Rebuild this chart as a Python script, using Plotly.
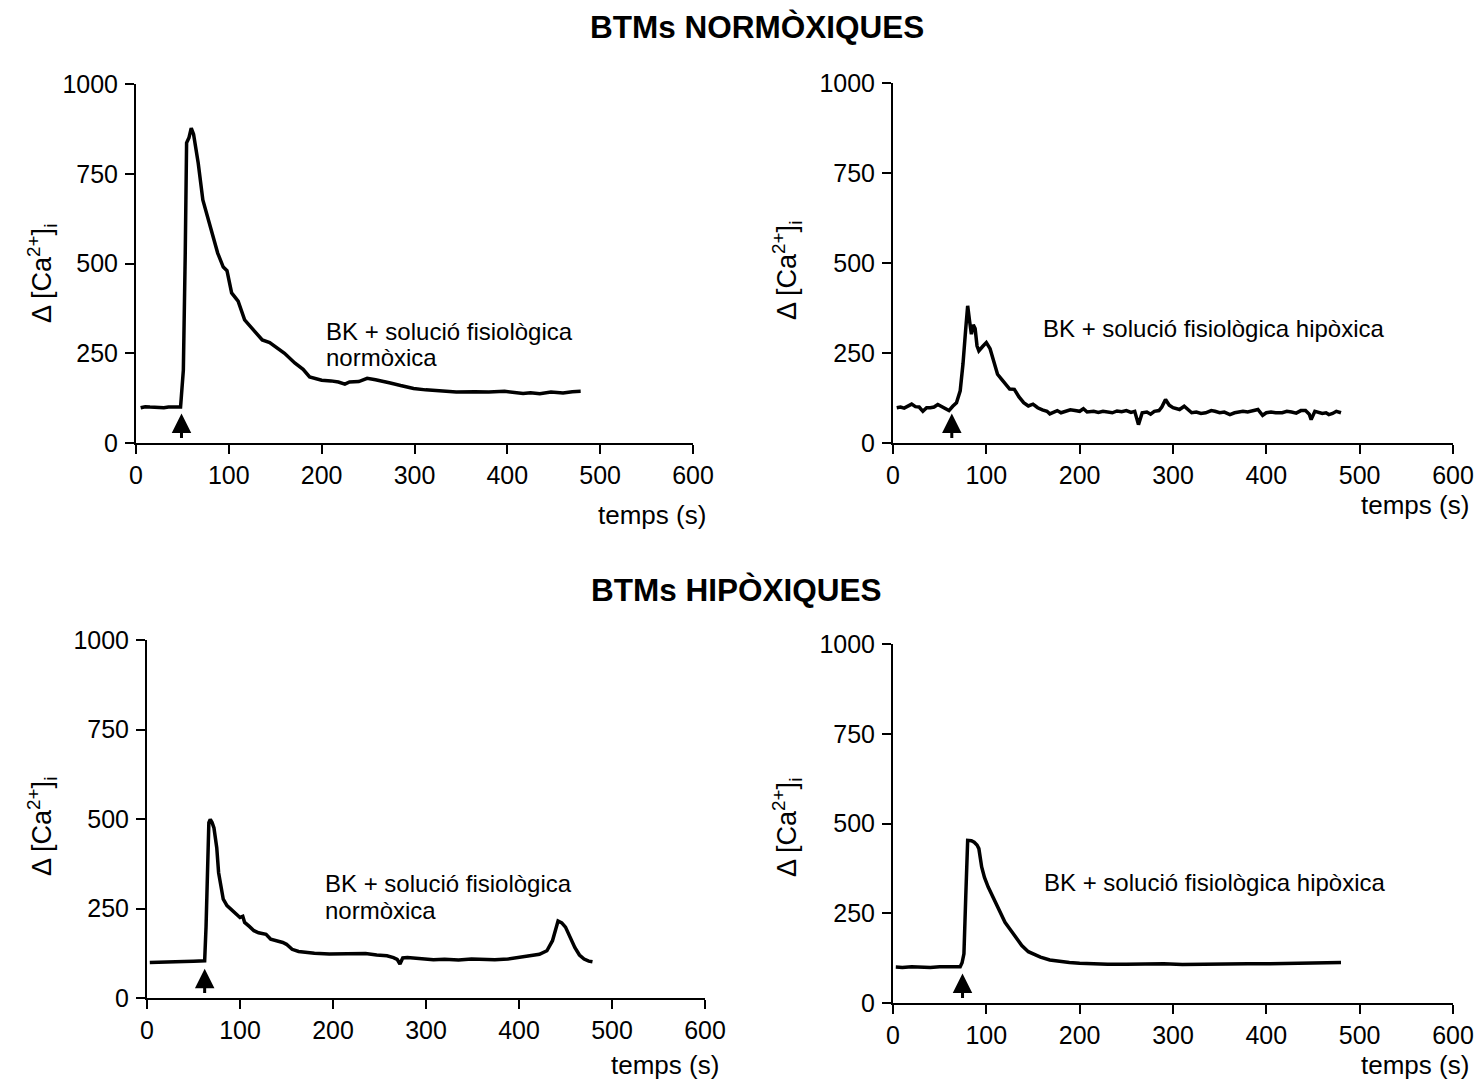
import plotly.graph_objects as go

W, H = 1479, 1082

# --- Traces: BTMs normòxiques ---
t_norm_norm = [5, 10, 15, 20, 25, 30, 35, 40, 45, 48, 51, 53, 54.5, 57, 59.5, 62, 67, 72, 80, 88,
               94, 98, 103, 110, 117, 125, 136, 144, 152, 160, 171, 180, 187, 195, 200, 210, 218,
               225, 230, 240, 249, 258, 266, 274, 285, 299, 312, 328, 345, 365, 380, 397, 410,
               417, 425, 435, 447, 460, 470, 479]
ca_norm_norm = [98, 101, 100, 99, 100, 98, 100, 99, 100, 100, 203, 520, 836, 850, 877, 860, 780,
                677, 602, 529, 490, 480, 418, 395, 343, 320, 287, 280, 265, 250, 223, 205, 184,
                178, 175, 173, 170, 164, 170, 171, 180, 176, 172, 167, 160, 152, 148, 145, 142,
                143, 142, 144, 141, 138, 140, 137, 142, 139, 143, 144]

t_norm_hip = [4, 8, 12, 16, 20, 24, 28, 32, 36, 40, 44, 48, 52, 56, 60, 64, 68, 72, 75, 78, 80,
              82, 84, 86, 88, 90, 92, 96, 100, 104, 108, 112, 116, 120, 125, 130, 135, 140, 145,
              150, 155, 160, 165, 168, 172, 176, 180, 185, 190, 195, 200, 204, 208, 215, 220, 225,
              230, 235, 240, 245, 250, 255, 259, 263, 267, 272, 276, 280, 285, 288, 292, 296, 300,
              304, 307, 312, 316, 320, 325, 330, 335, 341, 345, 350, 355, 361, 366, 370, 375, 380,
              385, 391, 396, 400, 405, 410, 417, 422, 427, 432, 437, 442, 446, 448, 452, 456, 460,
              464, 467, 471, 475, 480]
ca_norm_hip = [98, 100, 97, 102, 108, 101, 100, 88, 98, 98, 100, 107, 102, 96, 90, 102, 112, 145,
               220, 320, 381, 340, 302, 328, 318, 270, 256, 268, 279, 262, 228, 191, 178, 167, 150,
               149, 128, 112, 103, 108, 98, 92, 88, 81, 86, 90, 84, 88, 92, 90, 88, 95, 86, 88, 85,
               88, 86, 84, 89, 87, 90, 85, 88, 51, 84, 86, 80, 88, 90, 100, 121, 105, 98, 95, 93,
               102, 92, 84, 86, 82, 84, 90, 88, 84, 86, 79, 84, 86, 88, 86, 89, 93, 77, 84, 86, 84,
               84, 88, 86, 83, 90, 90, 80, 65, 88, 86, 82, 84, 79, 82, 88, 84]

# --- Traces: BTMs hipòxiques ---
t_hip_norm = [3, 10, 20, 30, 40, 50, 58, 62, 63.5, 65, 66.5, 68, 70, 72, 75, 77, 80, 82, 86, 90,
              95, 100, 103, 105, 110, 115, 120, 125, 128, 133, 140, 146, 150, 156, 163, 171, 180,
              196, 210, 222, 235, 247, 258, 265, 269, 272, 275, 280, 290, 298, 308, 320, 335, 349,
              362, 374, 388, 399, 408, 415, 422, 430, 436, 442, 446, 450, 455, 460, 465, 470, 475,
              479]
ca_hip_norm = [99, 100, 100, 101, 102, 103, 104, 104, 200, 400, 490, 499, 490, 475, 420, 350, 300,
               276, 258, 248, 236, 225, 228, 211, 200, 188, 182, 178, 178, 164, 160, 155, 150, 136,
               130, 127, 125, 123, 124, 123, 124, 120, 118, 113, 108, 95, 112, 113, 111, 109, 107,
               108, 106, 109, 108, 107, 109, 113, 116, 118, 122, 132, 160, 215, 210, 198, 170, 141,
               120, 109, 103, 101]

t_hip_hip = [3, 10, 20, 30, 40, 50, 60, 68, 72, 74, 76, 78, 80, 84, 87, 90, 92, 95, 98, 102, 108,
             115, 120, 125, 132, 138, 145, 150, 158, 168, 178, 189, 200, 214, 230, 250, 270, 290,
             310, 330, 341, 360, 380, 391, 410, 430, 450, 465, 480]
ca_hip_hip = [100, 99, 101, 100, 99, 101, 100, 100, 101, 112, 137, 300, 453, 452, 448, 440, 430,
              379, 350, 323, 290, 248, 225, 207, 182, 160, 143, 137, 128, 120, 116, 113, 111, 109,
              108, 108, 109, 109, 107, 108, 109, 108, 109, 109, 110, 110, 111, 112, 113]

# stimulus (BK) application time for each recording
bk_times = [49, 63, 62, 74.5]

solution_labels = ["BK + solució fisiològica<br>normòxica",
                   "BK + solució fisiològica hipòxica",
                   "BK + solució fisiològica<br>normòxica",
                   "BK + solució fisiològica hipòxica"]
section_titles = ["BTMs NORMÒXIQUES", "BTMs HIPÒXIQUES"]
x_ticks = [0, 100, 200, 300, 400, 500, 600]
y_ticks = [0, 250, 500, 750, 1000]

FONT = "Liberation Sans, Arial, Helvetica, sans-serif"


def fx(p):
    return p / W


def fy(p):
    return 1 - p / H


# pixel boxes of each plot area: (left, right, bottom, top)
boxes = [(136, 693, 443, 84), (893, 1453, 443, 83), (147, 705, 998, 640), (893, 1453, 1003, 644)]

series = [(t_norm_norm, ca_norm_norm), (t_norm_hip, ca_norm_hip),
          (t_hip_norm, ca_hip_norm), (t_hip_hip, ca_hip_hip)]

fig = go.Figure()
layout = dict(template="none", width=W, height=H, margin=dict(l=0, r=0, t=0, b=0, pad=0),
              paper_bgcolor="white", plot_bgcolor="white", showlegend=False,
              font=dict(family=FONT, color="black"))
annotations = []

for i, ((tt, cc), (l, r, b, t)) in enumerate(zip(series, boxes)):
    n = "" if i == 0 else str(i + 1)
    fig.add_trace(go.Scatter(x=tt, y=cc, mode="lines", xaxis="x" + n, yaxis="y" + n,
                             line=dict(color="black", width=3.5), hoverinfo="skip"))
    axis_common = dict(showline=True, linecolor="black", linewidth=2, ticks="outside",
                       ticklen=9, tickwidth=2, tickcolor="black", showgrid=False,
                       zeroline=False, automargin=False,
                       tickfont=dict(family=FONT, size=25, color="black"),
                       fixedrange=True)
    layout["xaxis" + n] = dict(axis_common, domain=[fx(l), fx(r)], range=[0, 600],
                               tickvals=x_ticks, anchor="y" + n)
    layout["yaxis" + n] = dict(axis_common, domain=[fy(b), fy(t)], range=[0, 1000],
                               tickvals=y_ticks, anchor="x" + n, ticklabelstandoff=2)

    # arrow marking BK application
    annotations.append(dict(x=bk_times[i], y=82, ax=bk_times[i], ay=10, xref="x" + n,
                            yref="y" + n, axref="x" + n, ayref="y" + n, showarrow=True,
                            arrowhead=2, arrowsize=1.3, arrowwidth=3, arrowcolor="black",
                            text=""))

    # solution label, one annotation per line
    lab_x = [324, 1041, 323, 1042][i]
    lab_y = [331, 329, 883, 882][i]
    for k, line in enumerate(solution_labels[i].split("<br>")):
        annotations.append(dict(x=fx(lab_x), y=fy(lab_y + 27 * k), xref="paper", yref="paper",
                                xanchor="left", yanchor="middle", align="left",
                                showarrow=False, text=line,
                                font=dict(family=FONT, size=24, color="black")))

    # x-axis title
    annotations.append(dict(x=fx([708, 1471, 721, 1471][i]), y=fy([515, 505, 1065, 1065][i]),
                            xref="paper", yref="paper", xanchor="right", yanchor="middle",
                            showarrow=False, text="temps (s)",
                            font=dict(family=FONT, size=26, color="black")))

    # y-axis title
    annotations.append(dict(x=fx([42, 787, 42, 787][i]), y=fy([274, 270, 827, 827][i]),
                            xref="paper", yref="paper", xanchor="center", yanchor="middle",
                            textangle=-90, showarrow=False,
                            text="Δ [Ca<sup>2+</sup>]<sub>i</sub>",
                            font=dict(family=FONT, size=27, color="black")))

# section headings
annotations.append(dict(x=fx(757), y=fy(27), xref="paper", yref="paper", showarrow=False,
                        xanchor="center", yanchor="middle",
                        text="<b>%s</b>" % section_titles[0],
                        font=dict(family=FONT, size=31.5, color="black")))
annotations.append(dict(x=fx(736), y=fy(590), xref="paper", yref="paper", showarrow=False,
                        xanchor="center", yanchor="middle",
                        text="<b>%s</b>" % section_titles[1],
                        font=dict(family=FONT, size=31.5, color="black")))

layout["annotations"] = annotations
fig.update_layout(layout)
fig.write_html("out.html")
